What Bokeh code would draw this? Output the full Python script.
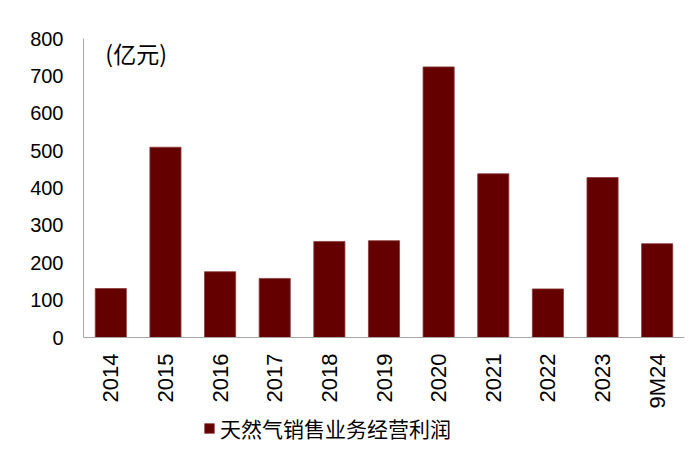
import math
from bokeh.plotting import figure
from bokeh.layouts import column
from bokeh.models import FactorRange, Range1d, FixedTicker, Legend, LegendItem, Label, ColumnDataSource
from bokeh.embed import file_html
from bokeh.resources import INLINE

categories = ["2014", "2015", "2016", "2017", "2018", "2019", "2020", "2021", "2022", "2023", "9M24"]
profit = [131, 509, 176, 158, 257, 259, 724, 438, 130, 428, 251]
y_ticks = [0, 100, 200, 300, 400, 500, 600, 700, 800]
series_name = "天然气销售业务经营利润"
unit_label = "(亿元)"

BAR = "#640000"
BAR_EDGE = "#8a3a3a"
AXIS = "#a6a6a6"
NUM_FONT = "Liberation Sans"
CJK_FONT = "Noto Sans CJK SC"

src = ColumnDataSource(dict(cat=categories, v=profit))

p = figure(width=700, height=411, output_backend="svg", toolbar_location=None,
           x_range=FactorRange(factors=categories, range_padding=0),
           y_range=Range1d(0, 800),
           min_border_left=83, min_border_right=16, min_border_top=38, min_border_bottom=74)
p.outline_line_color = None
p.xgrid.grid_line_color = None
p.ygrid.grid_line_color = None

r = p.vbar(x="cat", top="v", width=0.57, source=src, fill_color=BAR, line_color=BAR_EDGE, line_width=0.8)

p.yaxis.ticker = FixedTicker(ticks=y_ticks)
p.yaxis.major_tick_line_color = None
p.yaxis.minor_tick_line_color = None
p.yaxis.major_tick_out = 0
p.yaxis.major_label_standoff = 20
p.yaxis.axis_line_color = AXIS
p.yaxis.major_label_text_font = NUM_FONT
p.yaxis.major_label_text_font_size = "20px"
p.yaxis.major_label_text_color = "#000000"

p.xaxis.major_tick_line_color = None
p.xaxis.minor_tick_line_color = None
p.xaxis.major_tick_out = 0
p.xaxis.major_label_standoff = 16
p.xaxis.axis_line_color = AXIS
p.xaxis.major_label_orientation = math.pi / 2
p.xaxis.major_label_text_font = NUM_FONT
p.xaxis.major_label_text_font_size = "22px"
p.xaxis.major_label_text_color = "#000000"

p.add_layout(Label(x=0.4, y=762, text=unit_label, text_font=CJK_FONT, text_font_size="23px",
                   text_baseline="middle", text_align="left", text_color="#000000"))

# legend strip below the chart; its helper renderer is hidden, only its legend entry shows
p2 = figure(width=700, height=44, output_backend="svg", toolbar_location=None,
            x_range=FactorRange(factors=categories, range_padding=0), y_range=Range1d(2000, 2100),
            x_axis_location=None, y_axis_location=None,
            min_border_left=0, min_border_right=0, min_border_top=0, min_border_bottom=0)
p2.outline_line_color = None
p2.xgrid.grid_line_color = None
p2.ygrid.grid_line_color = None
proxy = p2.vbar(x="cat", top="v", width=0.57, source=src, fill_color=BAR, line_color=BAR_EDGE,
                line_width=0.8, visible=False)

legend = Legend(items=[LegendItem(label=series_name, renderers=[proxy])],
                location=(120, 12), orientation="horizontal",
                glyph_width=12, glyph_height=12, label_standoff=5, padding=0, margin=0,
                border_line_color=None, background_fill_alpha=0,
                label_text_font=CJK_FONT, label_text_font_size="21px", label_text_color="#000000")
p2.add_layout(legend, "center")

layout = column(p, p2, spacing=0)
open("out.html", "w").write(file_html(layout, INLINE))
